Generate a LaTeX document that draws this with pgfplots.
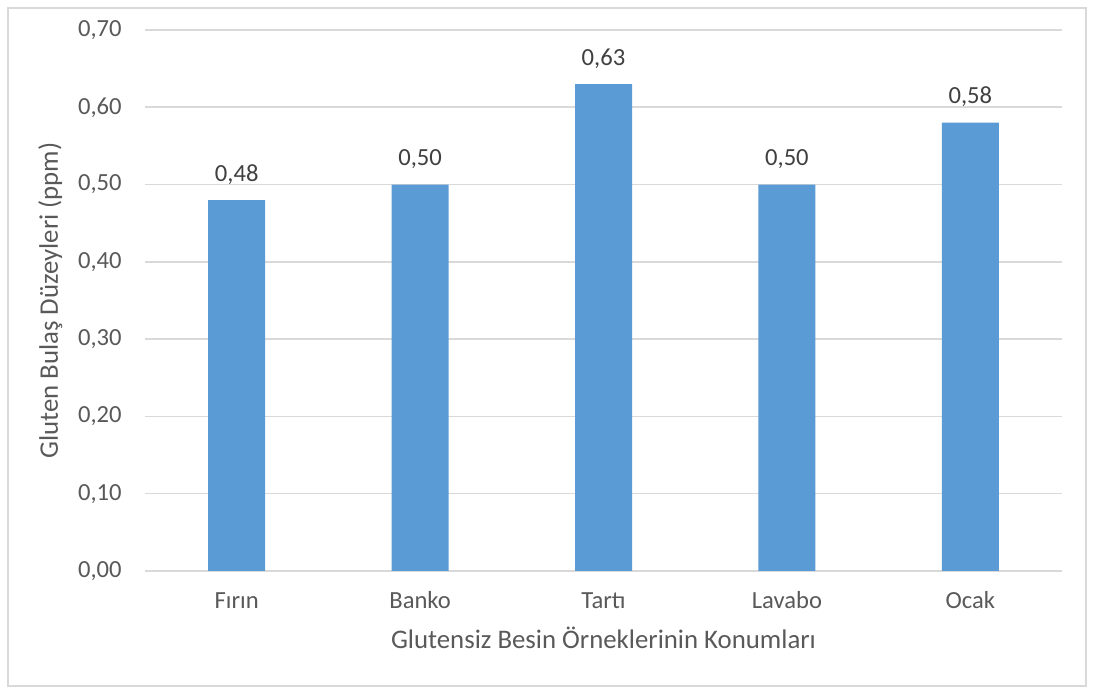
\documentclass[border=0pt]{standalone}
\usepackage{pgfplots}
\pgfplotsset{compat=1.18}
\usepackage{fontspec}
\setmainfont{Carlito}

\definecolor{barblue}{HTML}{5B9BD5}
\definecolor{gridgray}{HTML}{D9D9D9}
\definecolor{labelgray}{HTML}{595959}
\definecolor{valuegray}{HTML}{404040}
\definecolor{framegray}{HTML}{D9D9D9}

\begin{document}
\begin{tikzpicture}
\begin{axis}[
    scale only axis,
    width=458.5pt, height=270.5pt,
    ymin=0, ymax=0.70,
    xmin=-0.5, xmax=4.5,
    ytick={0,0.1,...,0.71},
    xtick=data,
    xticklabels={Fırın, Banko, Tartı, Lavabo, Ocak},
    ybar, bar width=28.5pt,
    axis x line*=bottom,
    axis y line*=left,
    x axis line style={gridgray, line width=0.8pt, -},
    y axis line style={draw=none},
    ymajorgrids, grid style={gridgray, line width=0.8pt},
    major tick length=0pt,
    tick style={draw=none},
    /pgf/number format/.cd, fixed, fixed zerofill, precision=2, use comma, assume math mode=true,
    /pgfplots/.cd,
    yticklabel style={font=\fontsize{12.3}{14}\selectfont, text=labelgray, anchor=east, inner sep=0pt, xshift=-11.5pt},
    xticklabel style={font=\fontsize{12.3}{14}\selectfont, text=labelgray, anchor=base, inner sep=0pt, yshift=-19pt},
    nodes near coords,
    every node near coord/.append style={font=\fontsize{12.3}{14}\selectfont, text=valuegray, anchor=base, inner sep=0pt, yshift=9.5pt},
    xlabel={Glutensiz Besin Örneklerinin Konumları},
    ylabel={Gluten Bulaş Düzeyleri (ppm)},
    xlabel style={font=\fontsize{13.4}{15}\selectfont, text=labelgray, anchor=base, inner sep=0pt, at={(axis description cs:0.5,0)}, yshift=-39pt},
    ylabel style={font=\fontsize{13.4}{15}\selectfont, text=labelgray, anchor=base, inner sep=0pt, at={(axis description cs:0,0.5)}, yshift=43.5pt},
    clip=false,
]
\addplot[fill=barblue, draw=none] coordinates {(0,0.48) (1,0.50) (2,0.63) (3,0.50) (4,0.58)};
\coordinate (sw) at (rel axis cs:0,0);
\coordinate (ne) at (rel axis cs:1,1);
\end{axis}
\draw[framegray, line width=0.8pt] ([shift={(-68.5pt,-57.5pt)}]sw) rectangle ([shift={(12pt,11pt)}]ne);
\useasboundingbox ([shift={(-72.5pt,-61.5pt)}]sw) rectangle ([shift={(16pt,15pt)}]ne);
\end{tikzpicture}
\end{document}
